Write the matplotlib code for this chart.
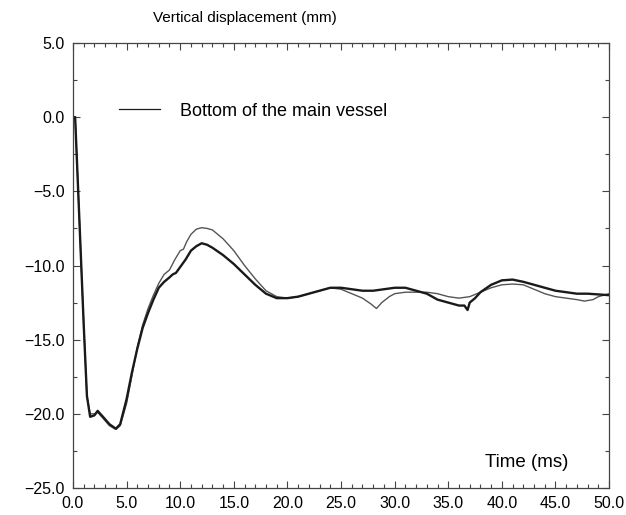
import numpy as np
import matplotlib.pyplot as plt
from matplotlib.ticker import MultipleLocator, FuncFormatter

# --- DATA --- #
# thick curve (bottom of the main vessel)
t_thick = [0, 0.2, 0.6, 1.0, 1.3, 1.6, 2.0, 2.3, 2.8, 3.4, 4.0, 4.4, 5.0, 5.5,
           6.0, 6.5, 7.0, 7.5, 8.0, 8.5, 9.0, 9.3, 9.6, 10.0, 10.5, 11.0, 11.5,
           12.0, 12.5, 13.0, 14.0, 15.0, 16.0, 17.0, 18.0, 19.0, 20.0, 21.0,
           22.0, 23.0, 24.0, 25.0, 26.0, 27.0, 28.0, 29.0, 30.0, 31.0, 32.0,
           33.0, 34.0, 35.0, 36.0, 36.5, 36.8, 37.0, 37.5, 38.0, 39.0, 40.0,
           41.0, 42.0, 43.0, 44.0, 45.0, 46.0, 47.0, 48.0, 49.0, 50.0]
y_thick = [0, 0, -7.0, -14.0, -18.8, -20.2, -20.1, -19.8, -20.2, -20.7, -21.0,
           -20.7, -19.0, -17.2, -15.6, -14.2, -13.2, -12.3, -11.5, -11.1,
           -10.8, -10.6, -10.5, -10.1, -9.6, -9.0, -8.7, -8.5, -8.6, -8.8,
           -9.3, -9.9, -10.6, -11.3, -11.9, -12.2, -12.2, -12.1, -11.9, -11.7,
           -11.5, -11.5, -11.6, -11.7, -11.7, -11.6, -11.5, -11.5, -11.7,
           -11.9, -12.3, -12.5, -12.7, -12.7, -13.0, -12.5, -12.2, -11.8,
           -11.3, -11.0, -10.95, -11.1, -11.3, -11.5, -11.7, -11.8, -11.9,
           -11.9, -11.95, -12.0]
# thin curve
t_thin = [0, 0.2, 0.6, 1.0, 1.3, 1.6, 2.0, 2.3, 2.8, 3.4, 4.0, 4.4, 5.0, 5.5,
          6.0, 6.5, 7.0, 7.5, 8.0, 8.5, 9.0, 9.5, 10.0, 10.3, 10.6, 11.0, 11.5,
          12.0, 12.5, 13.0, 14.0, 15.0, 16.0, 17.0, 18.0, 19.0, 20.0, 21.0,
          22.0, 23.0, 24.0, 25.0, 26.0, 27.0, 27.8, 28.3, 28.8, 29.5, 30.0,
          31.0, 32.0, 33.0, 34.0, 35.0, 36.0, 37.0, 38.0, 39.0, 40.0, 41.0,
          42.0, 43.0, 44.0, 45.0, 46.0, 47.0, 47.7, 48.5, 49.0, 50.0]
y_thin = [0, 0, -7.0, -14.0, -18.8, -20.0, -20.0, -19.9, -20.3, -20.8, -21.05,
          -20.8, -19.3, -17.4, -15.5, -14.0, -12.9, -12.0, -11.2, -10.6,
          -10.3, -9.6, -9.0, -8.9, -8.4, -7.9, -7.55, -7.45, -7.5, -7.6, -8.2,
          -9.0, -10.0, -10.9, -11.7, -12.1, -12.2, -12.1, -11.9, -11.7, -11.5,
          -11.6, -11.9, -12.2, -12.6, -12.9, -12.5, -12.1, -11.9, -11.8,
          -11.8, -11.8, -11.9, -12.1, -12.2, -12.1, -11.8, -11.5, -11.3,
          -11.25, -11.3, -11.6, -11.9, -12.1, -12.2, -12.3, -12.4, -12.3,
          -12.1, -11.9]

LEGEND_LABEL = 'Bottom of the main vessel'
Y_TITLE = 'Vertical displacement (mm)'
X_TITLE = 'Time (ms)'


def fmt(v, pos):
    return ('%.1f' % v).replace('-', '\u2212')


# --- PLOT --- #
plt.rcParams['font.family'] = ['Liberation Sans', 'DejaVu Sans']
fig = plt.figure(figsize=(6.26, 5.15), dpi=100)
ax = fig.add_axes([0.1166, 0.0524, 0.8564, 0.8641])

ax.plot(t_thin, y_thin, color='#555555', lw=1.0)
ax.plot(t_thick, y_thick, color='#1a1a1a', lw=1.7, label=LEGEND_LABEL)

ax.set_xlim(0, 50)
ax.set_ylim(-25, 5)
ax.xaxis.set_major_locator(MultipleLocator(5))
ax.xaxis.set_minor_locator(MultipleLocator(1))
ax.yaxis.set_major_locator(MultipleLocator(5))
ax.yaxis.set_minor_locator(MultipleLocator(2.5))
ax.xaxis.set_major_formatter(FuncFormatter(fmt))
ax.yaxis.set_major_formatter(FuncFormatter(fmt))
ax.tick_params(which='both', direction='in', top=True, right=True,
               color='#444444', labelsize=11.5, width=0.8)
ax.tick_params(which='major', length=5, pad=6)
ax.tick_params(which='minor', length=3)
for s in ax.spines.values():
    s.set_color('#444444')
    s.set_linewidth(0.9)

# Legend (only thick curve)
leg = ax.legend(loc='center left', bbox_to_anchor=(0.085, 0.847),
                frameon=False, borderaxespad=0, borderpad=0,
                handlelength=2.3, handletextpad=1.1, fontsize=13)
leg.get_lines()[0].set_linewidth(0.9)

ax.text(0.847, 0.058, X_TITLE, transform=ax.transAxes, ha='center',
        va='center', fontsize=13.5)
fig.text(245 / 626, 1 - 18 / 515, Y_TITLE, ha='center', va='center',
         fontsize=11)

plt.savefig('out.png', dpi=100)
